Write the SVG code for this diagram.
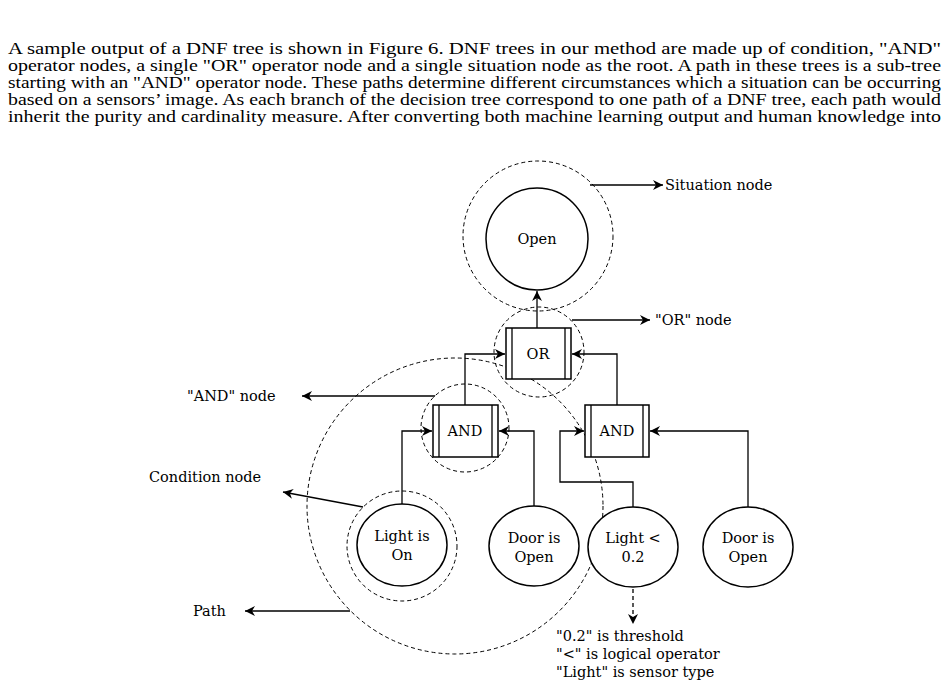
<svg xmlns="http://www.w3.org/2000/svg" width="949" height="688" viewBox="0 0 949 688">
<style>
.p{font-family:"Liberation Serif","Times New Roman",Times,serif;font-size:16px;fill:#000}
.t{font-family:"DejaVu Serif","Bitstream Vera Serif",serif;font-size:14.5px;fill:#000}
.c{text-anchor:middle}
.n{fill:#fff;stroke:#000;stroke-width:1.5}
.d{fill:none;stroke:#000;stroke-width:1;stroke-dasharray:4 3}
.l{fill:none;stroke:#000;stroke-width:1.3}
.in{stroke:#000;stroke-width:1.3;fill:none}
</style>
<defs>
<marker id="a" viewBox="0 0 10 10" refX="10" refY="5" markerWidth="10" markerHeight="10" markerUnits="userSpaceOnUse" orient="auto"><path d="M0,0 L10,5 L0,10 L3,5 z" fill="#000"/></marker>
</defs>
<rect width="949" height="688" fill="#fff"/>
<g id="paragraph">
<text class="p" x="8" y="54" textLength="933" lengthAdjust="spacingAndGlyphs">A sample output of a DNF tree is shown in Figure 6.  DNF trees in our method are made up of condition, "AND"</text>
<text class="p" x="8" y="71" textLength="933" lengthAdjust="spacingAndGlyphs">operator nodes, a single "OR" operator node and a single situation node as the root. A path in these trees is a sub-tree</text>
<text class="p" x="8" y="88" textLength="933" lengthAdjust="spacingAndGlyphs">starting with an "AND" operator node. These paths determine different circumstances which a situation can be occurring</text>
<text class="p" x="8" y="105" textLength="933" lengthAdjust="spacingAndGlyphs">based on a sensors’ image. As each branch of the decision tree correspond to one path of a DNF tree, each path would</text>
<text class="p" x="8" y="122" textLength="933" lengthAdjust="spacingAndGlyphs">inherit the purity and cardinality measure. After converting both machine learning output and human knowledge into</text>
</g>
<g id="connectors">
<path class="l" d="M537,328 V291" marker-end="url(#a)"/>
<path class="l" d="M465,405 V354 H505" marker-end="url(#a)"/>
<path class="l" d="M617,405 V354 H572" marker-end="url(#a)"/>
<path class="l" d="M402,504 V431 H432" marker-end="url(#a)"/>
<path class="l" d="M534,506 V431 H499" marker-end="url(#a)"/>
<path class="l" d="M633,507 V482 H560 V431 H584" marker-end="url(#a)"/>
<path class="l" d="M748,507 V431 H650" marker-end="url(#a)"/>
<path class="l" d="M633,589 V624" stroke-dasharray="4 3" marker-end="url(#a)"/>
<path class="l" d="M590,185 H663" marker-end="url(#a)"/>
<path class="l" d="M572,320 H650" marker-end="url(#a)"/>
<path class="l" d="M435,396 H302" marker-end="url(#a)"/>
<path class="l" d="M363,507 L283,492" marker-end="url(#a)"/>
<path class="l" d="M350,611 H245" marker-end="url(#a)"/>
</g>
<g id="highlights">
<circle class="d" cx="538" cy="236" r="75"/>
<circle class="d" cx="539" cy="352" r="45"/>
<circle class="d" cx="465" cy="428" r="44"/>
<circle class="d" cx="402" cy="546" r="55"/>
<circle class="d" cx="455" cy="506" r="148"/>
</g>
<g id="situation"><circle class="n" cx="537" cy="239" r="51"/><text class="t c" x="537" y="244">Open</text></g>
<g id="or"><rect class="n" x="506" y="328" width="65" height="51"/><path class="in" d="M512,328 V379 M565,328 V379"/><text class="t c" x="538" y="359">OR</text></g>
<g id="and1"><rect class="n" x="433" y="405" width="65" height="52"/><path class="in" d="M439,405 V457 M492,405 V457"/><text class="t c" x="465" y="436">AND</text></g>
<g id="and2"><rect class="n" x="585" y="405" width="64" height="52"/><path class="in" d="M591,405 V457 M643,405 V457"/><text class="t c" x="617" y="436">AND</text></g>
<g id="cond1"><ellipse class="n" cx="402" cy="545" rx="45" ry="41"/><text class="t c" x="402" y="541">Light is</text><text class="t c" x="402" y="560">On</text></g>
<g id="cond2"><ellipse class="n" cx="534" cy="546" rx="45" ry="40"/><text class="t c" x="534" y="543">Door is</text><text class="t c" x="534" y="562">Open</text></g>
<g id="cond3"><ellipse class="n" cx="633" cy="547" rx="45" ry="40"/><text class="t c" x="633" y="543">Light &lt;</text><text class="t c" x="633" y="562">0.2</text></g>
<g id="cond4"><ellipse class="n" cx="748" cy="547" rx="45" ry="40"/><text class="t c" x="748" y="543">Door is</text><text class="t c" x="748" y="562">Open</text></g>
<g id="labels">
<text class="t" x="665" y="190">Situation node</text>
<text class="t" x="655" y="325">"OR" node</text>
<text class="t" x="187" y="401">"AND" node</text>
<text class="t" x="149" y="482">Condition node</text>
<text class="t" x="193" y="616">Path</text>
<text class="t" x="556" y="641">"0.2" is threshold</text>
<text class="t" x="556" y="659">"&lt;" is logical operator</text>
<text class="t" x="556" y="677">"Light" is sensor type</text>
</g>
</svg>
